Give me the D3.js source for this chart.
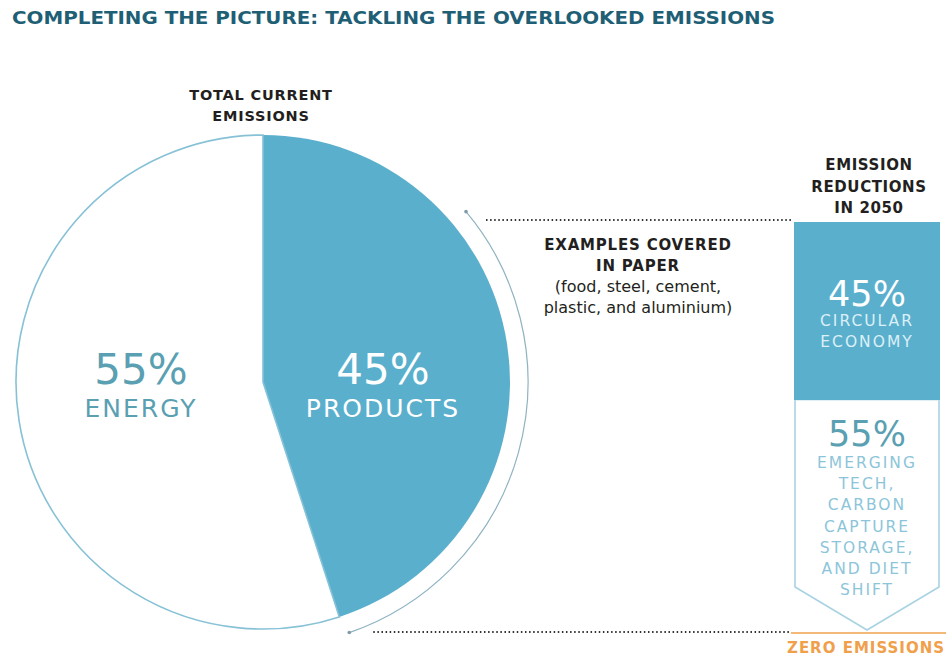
<!DOCTYPE html>
<html>
<head>
<meta charset="utf-8">
<script src="https://cdn.jsdelivr.net/npm/d3@7/dist/d3.min.js"></script>
<style>
  body { margin: 0; background: #fff; }
  svg { display: block; font-family: "DejaVu Sans", sans-serif; }
</style>
</head>
<body>
<svg id="chart" width="946" height="658"></svg>
<script>
// data
var pieCategories = ["PRODUCTS", "ENERGY"];
var pieValues = [45, 55];
var reductionCategories = [["CIRCULAR", "ECONOMY"],
  ["EMERGING", "TECH,", "CARBON", "CAPTURE", "STORAGE,", "AND DIET", "SHIFT"]];
var reductionValues = [45, 55];
var titleText = "COMPLETING THE PICTURE: TACKLING THE OVERLOOKED EMISSIONS";

var width = 946, height = 658;
var svg = d3.select('#chart');

var blue = '#5aafcd', teal = '#5a9fb2', dark = '#231f20';

// Title
svg.append('text')
  .attr('x', 12).attr('y', 24)
  .attr('font-size', 17).attr('font-weight', 'bold')
  .attr('fill', '#1f5f75')
  .attr('textLength', 763).attr('lengthAdjust', 'spacingAndGlyphs')
  .text(titleText);

// Pie
var cx = 263, cy = 382, r = 247;
var g = svg.append('g').attr('transform', 'translate(' + cx + ',' + cy + ')');

var pie = d3.pie().sort(null).startAngle(0).endAngle(2 * Math.PI);
var arcs = pie(pieValues);
var arc = d3.arc().innerRadius(0).outerRadius(r);

g.selectAll('path.slice').data(arcs)
  .enter().append('path')
  .attr('class', 'slice')
  .attr('d', arc)
  .attr('fill', function(d, i) { return i === 0 ? blue : '#fff'; })
  .attr('stroke', function(d, i) { return i === 0 ? 'none' : '#86c1d6'; })
  .attr('stroke-width', 1.6);

// pie labels
var labelPos = [[120, 0], [-122, 0]];
arcs.forEach(function(d, i) {
  var col = i === 0 ? '#fff' : teal;
  g.append('text')
    .attr('x', labelPos[i][0]).attr('y', 2)
    .attr('text-anchor', 'middle')
    .attr('font-size', 42).attr('fill', col)
    .text(pieValues[i] + '%');
  g.append('text')
    .attr('x', labelPos[i][0]).attr('y', 35)
    .attr('text-anchor', 'middle')
    .attr('font-size', 25).attr('letter-spacing', 2)
    .attr('fill', col)
    .text(pieCategories[i]);
});

// outer bracket arc around products
var ro = 265;
var a0 = 50 * Math.PI / 180, a1 = 161 * Math.PI / 180;
var p = d3.path();
p.arc(0, 0, ro, a0 - Math.PI / 2, a1 - Math.PI / 2);
g.append('path').attr('d', p.toString())
  .attr('fill', 'none').attr('stroke', '#8fb3c2').attr('stroke-width', 1.2);
[a0, a1].forEach(function(a) {
  g.append('circle')
    .attr('cx', ro * Math.sin(a)).attr('cy', -ro * Math.cos(a))
    .attr('r', 1.8).attr('fill', '#7d9aa6');
});

// Pie header
svg.append('text')
  .attr('text-anchor', 'middle').attr('font-size', 14.5).attr('font-weight', 'bold')
  .attr('letter-spacing', 0.8).attr('fill', dark)
  .selectAll('tspan').data(['TOTAL CURRENT', 'EMISSIONS'])
  .enter().append('tspan')
  .attr('x', cx - 2).attr('y', function(d, i) { return 100 + i * 21; })
  .text(function(d) { return d; });

// Examples label
var exLines = [['EXAMPLES COVERED', true], ['IN PAPER', true], ['(food, steel, cement,', false], ['plastic, and aluminium)', false]];
svg.append('g').selectAll('text').data(exLines)
  .enter().append('text')
  .attr('x', 638).attr('y', function(d, i) { return 250 + i * 21; })
  .attr('text-anchor', 'middle')
  .attr('font-size', function(d) { return d[1] ? 15 : 16; })
  .attr('letter-spacing', function(d) { return d[1] ? 0.8 : 0; })
  .attr('font-weight', function(d) { return d[1] ? 'bold' : 'normal'; })
  .attr('fill', dark)
  .text(function(d) { return d[0]; });

// Right stacked column
var bx = 794, bw = 146;
var y = d3.scaleLinear().domain([0, 100]).range([222, 618]);
var stack = [];
var acc = 0;
reductionValues.forEach(function(v) { stack.push([acc, acc + v]); acc += v; });

svg.append('rect')
  .attr('x', bx).attr('y', y(stack[0][0]))
  .attr('width', bw).attr('height', y(stack[0][1]) - y(stack[0][0]))
  .attr('fill', blue);

var top2 = y(stack[1][0]), bot2 = y(stack[1][1]);
var tip = bot2 + 12, side = bot2 - 31;
svg.append('path')
  .attr('d', 'M' + (bx + 1) + ',' + top2 + 'V' + side + 'L' + (bx + bw / 2) + ',' + tip +
    'L' + (bx + bw - 1) + ',' + side + 'V' + top2)
  .attr('fill', 'none').attr('stroke', '#a9d3e2').attr('stroke-width', 1.6);

var bcx = bx + bw / 2;
// top segment labels
svg.append('text').attr('x', bcx).attr('y', 306)
  .attr('text-anchor', 'middle').attr('font-size', 35).attr('fill', '#fff')
  .text(reductionValues[0] + '%');
svg.append('g').selectAll('text').data(reductionCategories[0])
  .enter().append('text')
  .attr('x', bcx).attr('y', function(d, i) { return 326 + i * 21; })
  .attr('text-anchor', 'middle').attr('font-size', 15.5).attr('letter-spacing', 2)
  .attr('fill', '#dcf0f7')
  .text(function(d) { return d; });

// bottom segment labels
svg.append('text').attr('x', bcx).attr('y', 446)
  .attr('text-anchor', 'middle').attr('font-size', 35).attr('fill', teal)
  .text(reductionValues[1] + '%');
svg.append('g').selectAll('text').data(reductionCategories[1])
  .enter().append('text')
  .attr('x', bcx).attr('y', function(d, i) { return 468 + i * 21.2; })
  .attr('text-anchor', 'middle').attr('font-size', 15.5).attr('letter-spacing', 2)
  .attr('fill', '#8cc5d9')
  .text(function(d) { return d; });

// column header
svg.append('text')
  .attr('text-anchor', 'middle').attr('font-size', 15).attr('font-weight', 'bold')
  .attr('letter-spacing', 0.6).attr('fill', dark)
  .selectAll('tspan').data(['EMISSION', 'REDUCTIONS', 'IN 2050'])
  .enter().append('tspan')
  .attr('x', bcx + 2).attr('y', function(d, i) { return 170 + i * 21.5; })
  .text(function(d) { return d; });

// dotted connector lines
var topY = y(0) - 2;
svg.append('line')
  .attr('x1', cx + ro * Math.sin(a0) + 20).attr('x2', bx - 2)
  .attr('y1', topY).attr('y2', topY)
  .attr('stroke', '#333').attr('stroke-width', 1.8).attr('stroke-dasharray', '1.5,2.6');
svg.append('line')
  .attr('x1', cx + ro * Math.sin(a1) + 24).attr('x2', 790)
  .attr('y1', tip + 2).attr('y2', tip + 2)
  .attr('stroke', '#333').attr('stroke-width', 1.8).attr('stroke-dasharray', '1.5,2.6');

// zero emissions
svg.append('line')
  .attr('x1', 791).attr('x2', width)
  .attr('y1', tip + 3).attr('y2', tip + 3)
  .attr('stroke', '#f0a04b').attr('stroke-width', 1.5);
svg.append('text')
  .attr('x', 787).attr('y', 653)
  .attr('font-size', 15).attr('font-weight', 'bold').attr('letter-spacing', 1)
  .attr('fill', '#f0a04b')
  .text('ZERO EMISSIONS');
</script>
</body>
</html>
